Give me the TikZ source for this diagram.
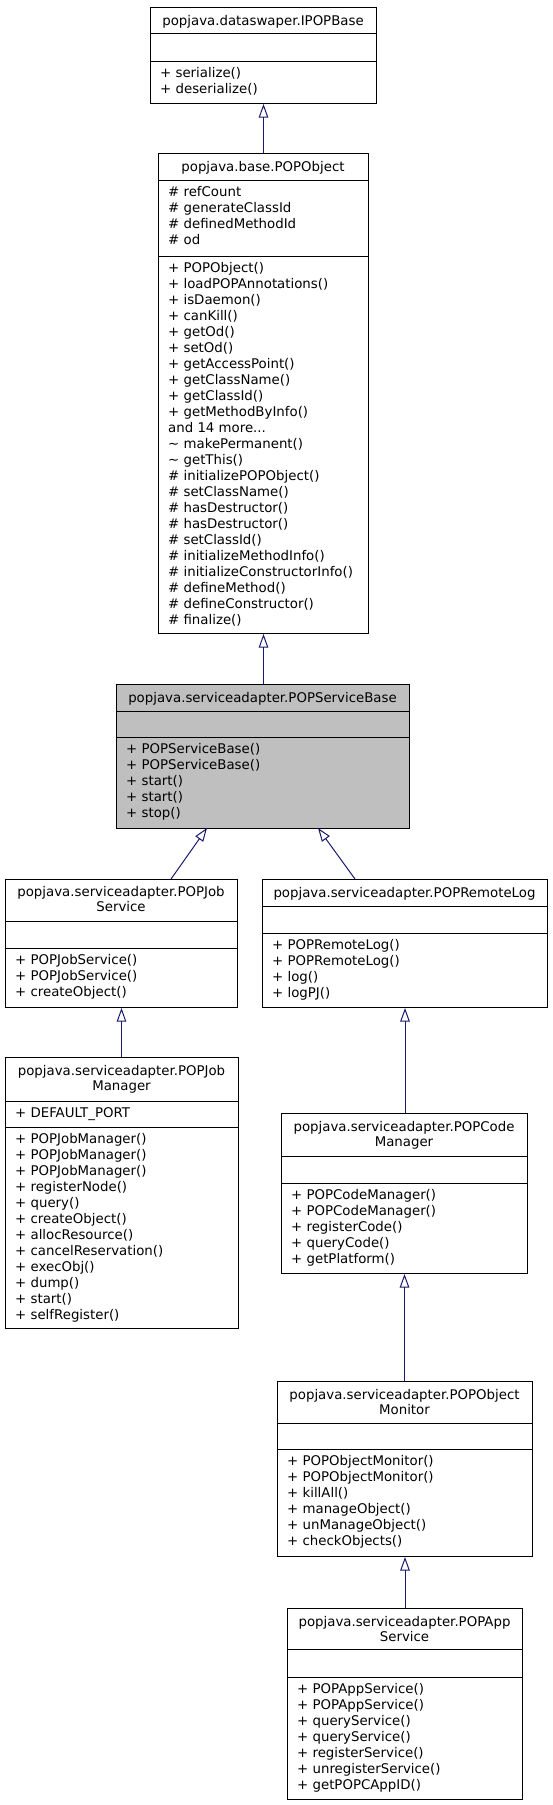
\documentclass[tikz,border=0pt]{standalone}
\usepackage{fontspec}
\setmainfont{DejaVu Sans}
\usetikzlibrary{arrows.meta}
\definecolor{edgeblue}{RGB}{25,25,112}
\definecolor{basegray}{RGB}{191,191,191}
\newcommand{\moredots}{...}
\tikzset{
  cls/.style={draw,line width=1pt,anchor=north west,inner sep=0pt},
  ttl/.style={anchor=base,inner sep=0pt,font=\fontsize{13.33}{16}\selectfont},
  mbr/.style={anchor=base west,inner sep=0pt,font=\fontsize{13.33}{16}\selectfont},
  inherit/.style={draw=edgeblue,line width=1pt,-{Triangle[open,length=13.5pt,width=9.5pt]}}
}

\begin{document}
\begin{tikzpicture}[x=1pt,y=-1pt]
\useasboundingbox (0,0) rectangle (552,1805);

\node[cls,minimum width=226pt,minimum height=96pt] (ipopbase) at (150,7) {};
\node[ttl] (ipopbase-t) at (263,25.5) {popjava.dataswaper.IPOPBase};
\draw[line width=1pt] (150,33) -- (376,33);
\draw[line width=1pt] (150,61) -- (376,61);
\foreach \m [count=\i from 0] in {+ serialize(),+ deserialize()}
\node[mbr] (ipopbase-m\i) at (160,77+16*\i) {\m};

\node[cls,minimum width=210pt,minimum height=480pt] (popobject) at (158,153) {};
\node[ttl] (popobject-t) at (263,171) {popjava.base.POPObject};
\draw[line width=1pt] (158,180) -- (368,180);
\draw[line width=1pt] (158,256) -- (368,256);
\foreach \m [count=\i from 0] in {\# refCount,\# generateClassId,\# definedMethodId,\# od}
\node[mbr] (popobject-a\i) at (168,196+16*\i) {\m};
\foreach \m [count=\i from 0] in {+ POPObject(),+ loadPOPAnnotations(),+ isDaemon(),+ canKill(),
  + getOd(),+ setOd(),+ getAccessPoint(),+ getClassName(),+ getClassId(),+ getMethodByInfo(),
  and 14 more\moredots,\textasciitilde{} makePermanent(),\textasciitilde{} getThis(),
  \# initializePOPObject(),\# setClassName(),\# hasDestructor(),\# hasDestructor(),
  \# setClassId(),\# initializeMethodInfo(),\# initializeConstructorInfo(),
  \# defineMethod(),\# defineConstructor(),\# finalize()}
\node[mbr] (popobject-m\i) at (168,272+16*\i) {\m};

\node[cls,fill=basegray,minimum width=293pt,minimum height=144pt] (servicebase) at (116,684) {};
\node[ttl] (servicebase-t) at (262.5,702) {popjava.serviceadapter.POPServiceBase};
\draw[line width=1pt] (116,711) -- (409,711);
\draw[line width=1pt] (116,737) -- (409,737);
\foreach \m [count=\i from 0] in {+ POPServiceBase(),+ POPServiceBase(),+ start(),+ start(),+ stop()}
\node[mbr] (servicebase-m\i) at (126,753+16*\i) {\m};

\node[cls,minimum width=232pt,minimum height=128pt] (jobsrv) at (5,879) {};
\node[ttl] (jobsrv-t1) at (121,896) {popjava.serviceadapter.POPJob};
\node[ttl] (jobsrv-t2) at (121,911) {Service};
\draw[line width=1pt] (5,921) -- (237,921);
\draw[line width=1pt] (5,948) -- (237,948);
\foreach \m [count=\i from 0] in {+ POPJobService(),+ POPJobService(),+ createObject()}
\node[mbr] (jobsrv-m\i) at (15,964+16*\i) {\m};

\node[cls,minimum width=285pt,minimum height=128pt] (remotelog) at (262,879) {};
\node[ttl] (remotelog-t) at (404.5,897) {popjava.serviceadapter.POPRemoteLog};
\draw[line width=1pt] (262,906) -- (547,906);
\draw[line width=1pt] (262,933) -- (547,933);
\foreach \m [count=\i from 0] in {+ POPRemoteLog(),+ POPRemoteLog(),+ log(),+ logPJ()}
\node[mbr] (remotelog-m\i) at (272,949+16*\i) {\m};

\node[cls,minimum width=233pt,minimum height=271pt] (jobmgr) at (5,1057) {};
\node[ttl] (jobmgr-t1) at (121.5,1075) {popjava.serviceadapter.POPJob};
\node[ttl] (jobmgr-t2) at (121.5,1090) {Manager};
\draw[line width=1pt] (5,1101) -- (238,1101);
\draw[line width=1pt] (5,1127) -- (238,1127);
\node[mbr] (jobmgr-a0) at (15,1117) {+ DEFAULT\_PORT};
\foreach \m [count=\i from 0] in {+ POPJobManager(),+ POPJobManager(),+ POPJobManager(),
  + registerNode(),+ query(),+ createObject(),+ allocResource(),+ cancelReservation(),
  + execObj(),+ dump(),+ start(),+ selfRegister()}
\node[mbr] (jobmgr-m\i) at (15,1143+16*\i) {\m};

\node[cls,minimum width=246pt,minimum height=160pt] (codemgr) at (281,1113) {};
\node[ttl] (codemgr-t1) at (404,1131.5) {popjava.serviceadapter.POPCode};
\node[ttl] (codemgr-t2) at (404,1146.5) {Manager};
\draw[line width=1pt] (281,1156) -- (527,1156);
\draw[line width=1pt] (281,1183) -- (527,1183);
\foreach \m [count=\i from 0] in {+ POPCodeManager(),+ POPCodeManager(),+ registerCode(),
  + queryCode(),+ getPlatform()}
\node[mbr] (codemgr-m\i) at (291,1199+16*\i) {\m};

\node[cls,minimum width=255pt,minimum height=175pt] (objmon) at (277,1381) {};
\node[ttl] (objmon-t1) at (404.5,1399) {popjava.serviceadapter.POPObject};
\node[ttl] (objmon-t2) at (404.5,1414) {Monitor};
\draw[line width=1pt] (277,1423) -- (532,1423);
\draw[line width=1pt] (277,1449) -- (532,1449);
\foreach \m [count=\i from 0] in {+ POPObjectMonitor(),+ POPObjectMonitor(),+ killAll(),
  + manageObject(),+ unManageObject(),+ checkObjects()}
\node[mbr] (objmon-m\i) at (287,1465+16*\i) {\m};

\node[cls,minimum width=235pt,minimum height=191pt] (appsrv) at (287,1608) {};
\node[ttl] (appsrv-t1) at (404.5,1626) {popjava.serviceadapter.POPApp};
\node[ttl] (appsrv-t2) at (404.5,1641) {Service};
\draw[line width=1pt] (287,1649) -- (522,1649);
\draw[line width=1pt] (287,1677) -- (522,1677);
\foreach \m [count=\i from 0] in {+ POPAppService(),+ POPAppService(),+ queryService(),
  + queryService(),+ registerService(),+ unregisterService(),+ getPOPCAppID()}
\node[mbr] (appsrv-m\i) at (297,1693+16*\i) {\m};

\coordinate (base-left) at (207,828);
\coordinate (base-right) at (318,828);
\coordinate (jobsrv-in) at (171,879);
\coordinate (remotelog-in) at (355,879);

\draw[inherit] (popobject.north) -- (ipopbase.south);
\draw[inherit] (servicebase.north -| popobject.south) -- (popobject.south);
\draw[inherit] (jobsrv-in) -- (base-left);
\draw[inherit] (remotelog-in) -- (base-right);
\draw[inherit] (jobmgr.north -| jobsrv.south) -- (jobsrv.south);
\draw[inherit] (codemgr.north -| remotelog.south) -- (remotelog.south);
\draw[inherit] (objmon.north -| codemgr.south) -- (codemgr.south);
\draw[inherit] (appsrv.north -| objmon.south) -- (objmon.south);
\end{tikzpicture}
\end{document}
